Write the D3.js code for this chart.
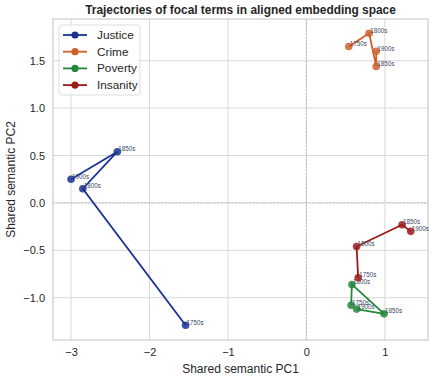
<!DOCTYPE html>
<html>
<head>
<meta charset="utf-8">
<script src="https://cdn.jsdelivr.net/npm/d3@7"></script>
<style>
  body { margin: 0; background: #fff; }
  svg { font-family: "Liberation Sans", Arial, sans-serif; }
</style>
</head>
<body>
<div id="chart"></div>
<script>
// trajectories of focal terms, one array per term (PC1, PC2 per decade)
const decades = ["1750s", "1800s", "1850s", "1900s"];
const terms = ["Justice", "Crime", "Poverty", "Insanity"];
const colors = ["#1a3393", "#d0602b", "#23873a", "#9b1b1b"];

const justicePC1 = [-1.54, -2.85, -2.41, -3.00];
const justicePC2 = [-1.29, 0.15, 0.54, 0.25];
const crimePC1 = [0.54, 0.80, 0.89, 0.89];
const crimePC2 = [1.65, 1.79, 1.44, 1.60];
const povertyPC1 = [0.57, 0.58, 0.99, 0.64];
const povertyPC2 = [-1.08, -0.86, -1.17, -1.12];
const insanityPC1 = [0.66, 0.64, 1.22, 1.33];
const insanityPC2 = [-0.79, -0.46, -0.23, -0.30];

const xTicks = [-3, -2, -1, 0, 1];
const yTicks = [-1.0, -0.5, 0.0, 0.5, 1.0, 1.5];

const series = [
  {name: terms[0], pc1: justicePC1, pc2: justicePC2},
  {name: terms[1], pc1: crimePC1, pc2: crimePC2},
  {name: terms[2], pc1: povertyPC1, pc2: povertyPC2},
  {name: terms[3], pc1: insanityPC1, pc2: insanityPC2}
];

const WIDTH = 437, HEIGHT = 381;
const MARGINS = {left: 53, right: 9, top: 19, bottom: 41};

const svg = d3.select("#chart").append("svg")
    .attr("width", WIDTH)
    .attr("height", HEIGHT);

const X_SCALE = d3.scaleLinear()
    .domain([-3.23, 1.55])
    .range([MARGINS.left, WIDTH - MARGINS.right]);
const Y_SCALE = d3.scaleLinear()
    .domain([-1.446, 1.94])
    .range([HEIGHT - MARGINS.bottom, MARGINS.top]);

// grid
svg.append("g").selectAll("line").data(xTicks).enter().append("line")
    .attr("x1", d => X_SCALE(d)).attr("x2", d => X_SCALE(d))
    .attr("y1", MARGINS.top).attr("y2", HEIGHT - MARGINS.bottom)
    .attr("stroke", "#d9d9d9").attr("stroke-width", 1);
svg.append("g").selectAll("line").data(yTicks).enter().append("line")
    .attr("y1", d => Y_SCALE(d)).attr("y2", d => Y_SCALE(d))
    .attr("x1", MARGINS.left).attr("x2", WIDTH - MARGINS.right)
    .attr("stroke", "#d9d9d9").attr("stroke-width", 1);

// zero reference lines
svg.append("line")
    .attr("x1", X_SCALE(0)).attr("x2", X_SCALE(0))
    .attr("y1", MARGINS.top).attr("y2", HEIGHT - MARGINS.bottom)
    .attr("stroke", "#a8b0c4").attr("stroke-width", 0.8).attr("stroke-dasharray", "2,1.5");
svg.append("line")
    .attr("y1", Y_SCALE(0)).attr("y2", Y_SCALE(0))
    .attr("x1", MARGINS.left).attr("x2", WIDTH - MARGINS.right)
    .attr("stroke", "#a8b0c4").attr("stroke-width", 0.8).attr("stroke-dasharray", "2,1.5");

// frame
svg.append("rect")
    .attr("x", MARGINS.left).attr("y", MARGINS.top)
    .attr("width", WIDTH - MARGINS.left - MARGINS.right)
    .attr("height", HEIGHT - MARGINS.top - MARGINS.bottom)
    .attr("fill", "none").attr("stroke", "#cccccc").attr("stroke-width", 1.2);

// axes
const xAxis = svg.append("g")
    .attr("transform", "translate(0," + (HEIGHT - MARGINS.bottom) + ")")
    .call(d3.axisBottom(X_SCALE).tickValues(xTicks).tickSize(0).tickPadding(8)
        .tickFormat(d => d3.format("d")(d).replace("-", "\u2212")));
const yAxis = svg.append("g")
    .attr("transform", "translate(" + MARGINS.left + ",0)")
    .call(d3.axisLeft(Y_SCALE).tickValues(yTicks).tickSize(0).tickPadding(8)
        .tickFormat(d => d3.format(".1f")(d).replace("-", "\u2212")));
[xAxis, yAxis].forEach(a => {
  a.select(".domain").remove();
  a.selectAll("text").attr("font-size", "11px").attr("fill", "#262626")
      .attr("font-family", "Liberation Sans, Arial, sans-serif");
});

// trajectories
const line = d3.line().x(d => X_SCALE(d[0])).y(d => Y_SCALE(d[1]));
series.forEach((s, i) => {
  const pts = s.pc1.map((v, j) => [v, s.pc2[j], decades[j]]);
  svg.append("path")
      .datum(pts)
      .attr("d", line)
      .attr("fill", "none")
      .attr("stroke", colors[i])
      .attr("stroke-width", 1.8);
  svg.append("g").selectAll("circle").data(pts).enter().append("circle")
      .attr("cx", d => X_SCALE(d[0]))
      .attr("cy", d => Y_SCALE(d[1]))
      .attr("r", 3.8)
      .attr("fill", colors[i])
      .attr("fill-opacity", 0.85);
  svg.append("g").selectAll("text").data(pts).enter().append("text")
      .attr("x", d => X_SCALE(d[0]) + 1)
      .attr("y", d => Y_SCALE(d[1]) - 0.5)
      .attr("font-size", "6.3px")
      .attr("fill", "#3a4a66")
      .text(d => d[2]);
});

// title and labels
svg.append("text")
    .attr("x", 240.5)
    .attr("y", 14)
    .attr("text-anchor", "middle")
    .attr("font-size", "11.9px")
    .attr("font-weight", "bold")
    .attr("fill", "#262626")
    .text("Trajectories of focal terms in aligned embedding space");
svg.append("text")
    .attr("x", (MARGINS.left + WIDTH - MARGINS.right) / 2)
    .attr("y", 373)
    .attr("text-anchor", "middle")
    .attr("font-size", "12px")
    .attr("fill", "#262626")
    .text("Shared semantic PC1");
svg.append("text")
    .attr("transform", "translate(15," + ((MARGINS.top + HEIGHT - MARGINS.bottom) / 2) + ") rotate(-90)")
    .attr("text-anchor", "middle")
    .attr("font-size", "12px")
    .attr("fill", "#262626")
    .text("Shared semantic PC2");

// legend
const legend = svg.append("g").attr("transform", "translate(59,25)");
legend.append("rect")
    .attr("width", 81).attr("height", 70)
    .attr("rx", 3)
    .attr("fill", "#fff").attr("fill-opacity", 0.85)
    .attr("stroke", "#d4d4d4").attr("stroke-width", 0.8);
terms.forEach((t, i) => {
  const y = 10 + i * 16.7;
  legend.append("line")
      .attr("x1", 4).attr("x2", 28).attr("y1", y).attr("y2", y)
      .attr("stroke", colors[i]).attr("stroke-width", 1.8);
  legend.append("circle")
      .attr("cx", 16).attr("cy", y).attr("r", 3.6).attr("fill", colors[i]);
  legend.append("text")
      .attr("x", 38).attr("y", y + 4)
      .attr("font-size", "11.8px").attr("fill", "#262626")
      .text(t);
});
</script>
</body>
</html>
